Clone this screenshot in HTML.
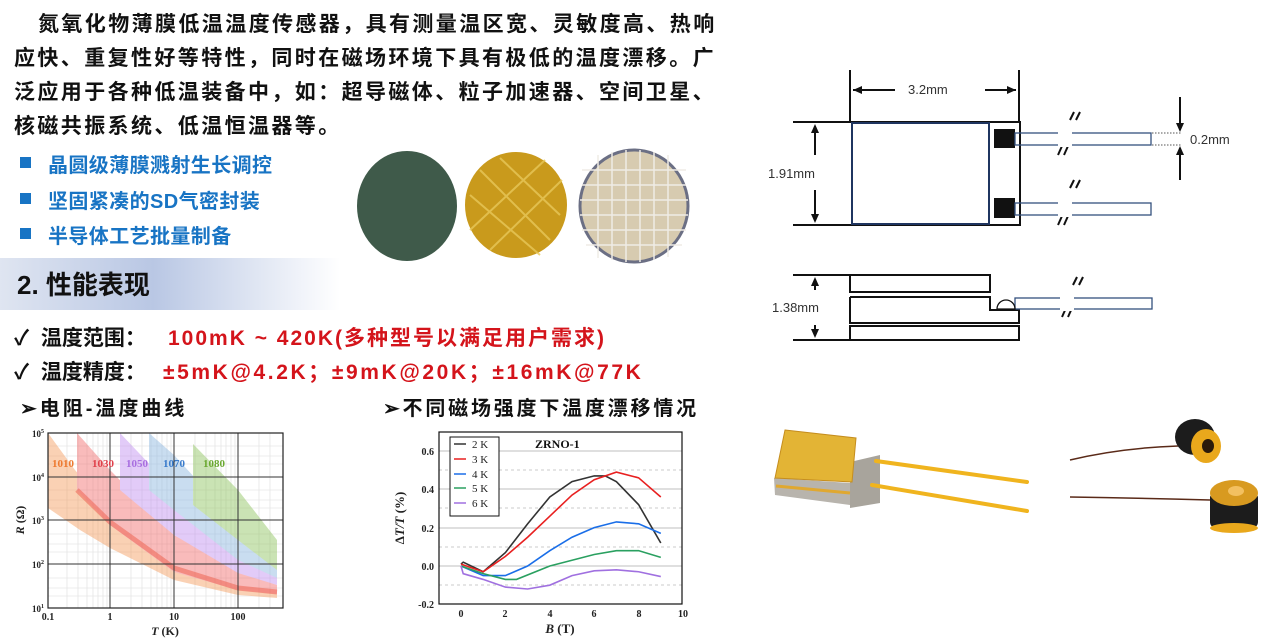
<!DOCTYPE html>
<html><head><meta charset="utf-8"><style>
body{margin:0;width:1270px;height:640px;background:#fff;position:relative;overflow:hidden;font-family:"Liberation Sans","Noto Sans CJK SC",sans-serif;}
.t{position:absolute;white-space:nowrap;font-weight:bold;}
.p{font-size:21px;letter-spacing:2.4px;color:#111;}
.b{font-size:20px;color:#1874c4;letter-spacing:0.4px;}
.sq{position:absolute;width:11px;height:11px;background:#1874c4;}
svg{position:absolute;left:0;top:0;}
</style></head><body>
<div class="t p" style="left:38px;top:8px">氮氧化物薄膜低温温度传感器，具有测量温区宽、灵敏度高、热响</div>
<div class="t p" style="left:14px;top:42px">应快、重复性好等特性，同时在磁场环境下具有极低的温度漂移。广</div>
<div class="t p" style="left:14px;top:76px">泛应用于各种低温装备中，如：超导磁体、粒子加速器、空间卫星、</div>
<div class="t p" style="left:14px;top:110px">核磁共振系统、低温恒温器等。</div>
<div class="sq" style="left:20px;top:157px"></div><div class="t b" style="left:48px;top:149px">晶圆级薄膜溅射生长调控</div>
<div class="sq" style="left:20px;top:193px"></div><div class="t b" style="left:48px;top:185px">坚固紧凑的SD气密封装</div>
<div class="sq" style="left:20px;top:228px"></div><div class="t b" style="left:48px;top:220px">半导体工艺批量制备</div>
<div style="position:absolute;left:0;top:258px;width:340px;height:52px;background:linear-gradient(90deg,#dfe5f1 0%,#b9c7e4 45%,#fff 100%)"></div>
<div class="t" style="left:17px;top:265px;font-size:26px;color:#111">2. 性能表现</div>
<div class="t" style="left:14px;top:322px;font-size:21px;color:#111">✓ &nbsp;温度范围：<span style="position:absolute;left:154px;color:#d4141b;letter-spacing:2px">100mK ~ 420K(多种型号以满足用户需求)</span></div>
<div class="t" style="left:14px;top:356px;font-size:21px;color:#111">✓ &nbsp;温度精度：<span style="position:absolute;left:149px;color:#d4141b;letter-spacing:2.6px">±5mK@4.2K；±9mK@20K；±16mK@77K</span></div>
<div class="t" style="left:20px;top:392px;font-size:20px;color:#111;letter-spacing:3px">➢电阻-温度曲线</div>
<div class="t" style="left:383px;top:392px;font-size:20px;color:#111;letter-spacing:2.8px">➢不同磁场强度下温度漂移情况</div>

<svg width="1270" height="640" viewBox="0 0 1270 640">
<!-- wafers -->
<ellipse cx="407" cy="206" rx="50" ry="55" fill="#3f5a4a"/>
<ellipse cx="516" cy="205" rx="51" ry="53" fill="#c99a1c"/>
<g stroke="#e8c85a" stroke-width="2" opacity=".8">
<line x1="480" y1="170" x2="550" y2="240"/><line x1="470" y1="195" x2="540" y2="255"/><line x1="500" y1="158" x2="560" y2="215"/>
<line x1="470" y1="230" x2="545" y2="160"/><line x1="490" y1="250" x2="562" y2="180"/></g>
<ellipse cx="634" cy="206" rx="54" ry="56" fill="#d7cbb0" stroke="#6b6f84" stroke-width="3"/>
<g stroke="#efece5" stroke-width="1.5">
<line x1="582" y1="170" x2="686" y2="170"/><line x1="582" y1="185" x2="686" y2="185"/><line x1="580" y1="200" x2="688" y2="200"/><line x1="580" y1="215" x2="688" y2="215"/><line x1="582" y1="230" x2="686" y2="230"/><line x1="586" y1="245" x2="682" y2="245"/>
<line x1="598" y1="155" x2="598" y2="258"/><line x1="612" y1="152" x2="612" y2="260"/><line x1="626" y1="150" x2="626" y2="262"/><line x1="640" y1="150" x2="640" y2="262"/><line x1="654" y1="152" x2="654" y2="260"/><line x1="668" y1="155" x2="668" y2="257"/></g>

<!-- left chart -->
<g stroke="#ddd" stroke-width="0.6">
<line x1="67" y1="433" x2="67" y2="608"/><line x1="78" y1="433" x2="78" y2="608"/><line x1="87" y1="433" x2="87" y2="608"/><line x1="93" y1="433" x2="93" y2="608"/><line x1="98" y1="433" x2="98" y2="608"/><line x1="103" y1="433" x2="103" y2="608"/><line x1="107" y1="433" x2="107" y2="608"/>
<line x1="131" y1="433" x2="131" y2="608"/><line x1="142" y1="433" x2="142" y2="608"/><line x1="151" y1="433" x2="151" y2="608"/><line x1="157" y1="433" x2="157" y2="608"/><line x1="162" y1="433" x2="162" y2="608"/><line x1="167" y1="433" x2="167" y2="608"/><line x1="171" y1="433" x2="171" y2="608"/>
<line x1="195" y1="433" x2="195" y2="608"/><line x1="206" y1="433" x2="206" y2="608"/><line x1="215" y1="433" x2="215" y2="608"/><line x1="221" y1="433" x2="221" y2="608"/><line x1="226" y1="433" x2="226" y2="608"/><line x1="231" y1="433" x2="231" y2="608"/><line x1="235" y1="433" x2="235" y2="608"/>
<line x1="259" y1="433" x2="259" y2="608"/><line x1="270" y1="433" x2="270" y2="608"/>
<line x1="48" y1="446" x2="283" y2="446"/><line x1="48" y1="456" x2="283" y2="456"/><line x1="48" y1="464" x2="283" y2="464"/><line x1="48" y1="490" x2="283" y2="490"/><line x1="48" y1="500" x2="283" y2="500"/><line x1="48" y1="508" x2="283" y2="508"/>
<line x1="48" y1="534" x2="283" y2="534"/><line x1="48" y1="544" x2="283" y2="544"/><line x1="48" y1="552" x2="283" y2="552"/><line x1="48" y1="578" x2="283" y2="578"/><line x1="48" y1="588" x2="283" y2="588"/><line x1="48" y1="596" x2="283" y2="596"/>
</g>
<g opacity=".45">
<polygon fill="#f59a5a" points="48,433 75,470 110,510 174,560 238,585 277,592 277,598 238,595 174,580 110,548 80,530 48,508"/>
<polygon fill="#f26a6a" points="77,433 110,470 174,535 238,570 277,585 277,594 238,590 174,572 110,525 77,490"/>
<polygon fill="#c08ef0" points="120,433 174,490 238,548 277,575 277,585 238,573 174,535 120,490"/>
<polygon fill="#88b4e0" points="149,433 174,455 238,525 277,560 277,578 238,560 174,510 149,490"/>
<polygon fill="#8cc25a" points="193,444 238,490 277,540 277,570 238,540 193,505"/>
</g>
<polyline fill="none" stroke="#ef6a5a" stroke-width="5" opacity=".6" points="77,490 110,522 174,568 238,588 277,592"/>
<g stroke="#333" stroke-width="1">
<line x1="110" y1="433" x2="110" y2="608"/><line x1="174" y1="433" x2="174" y2="608"/><line x1="238" y1="433" x2="238" y2="608"/>
<line x1="48" y1="477" x2="283" y2="477"/><line x1="48" y1="520" x2="283" y2="520"/><line x1="48" y1="564" x2="283" y2="564"/>
</g>
<rect x="48" y="433" width="235" height="175" fill="none" stroke="#222" stroke-width="1.2"/>
<g font-family="Liberation Serif,serif" font-weight="bold" font-size="11">
<text x="52" y="467" fill="#ee7a30">1010</text><text x="92" y="467" fill="#e0404a">1030</text><text x="126" y="467" fill="#a86ee0">1050</text><text x="163" y="467" fill="#3a7ccc">1070</text><text x="203" y="467" fill="#6aa830">1080</text>
</g>
<g font-family="Liberation Serif,serif" font-weight="bold" font-size="9" fill="#222" text-anchor="end">
<text x="44" y="437">10<tspan dy="-4" font-size="6">5</tspan></text><text x="44" y="481">10<tspan dy="-4" font-size="6">4</tspan></text><text x="44" y="524">10<tspan dy="-4" font-size="6">3</tspan></text><text x="44" y="568">10<tspan dy="-4" font-size="6">2</tspan></text><text x="44" y="612">10<tspan dy="-4" font-size="6">1</tspan></text>
</g>
<g font-family="Liberation Serif,serif" font-weight="bold" font-size="10" fill="#222" text-anchor="middle">
<text x="48" y="620">0.1</text><text x="110" y="620">1</text><text x="174" y="620">10</text><text x="238" y="620">100</text>
<text x="165" y="635" font-size="12"><tspan font-style="italic">T</tspan> (K)</text>
<text x="0" y="0" font-size="12" transform="translate(24,520) rotate(-90)"><tspan font-style="italic">R</tspan> (Ω)</text>
</g>

<!-- middle chart -->
<g stroke="#aaa" stroke-width="0.8">
<line x1="439" y1="451" x2="682" y2="451"/><line x1="439" y1="489" x2="682" y2="489"/><line x1="439" y1="528" x2="682" y2="528"/><line x1="439" y1="566" x2="682" y2="566"/>
</g>
<g stroke="#bbb" stroke-width="0.8" stroke-dasharray="3,3">
<line x1="439" y1="470" x2="682" y2="470"/><line x1="439" y1="508" x2="682" y2="508"/><line x1="439" y1="547" x2="682" y2="547"/><line x1="439" y1="585" x2="682" y2="585"/>
</g>
<g transform="translate(461,566) scale(22.2,-191.7)" fill="none" stroke-width="1.6">
<polyline vector-effect="non-scaling-stroke" stroke="#333" points="0,0.01 0.1,0.02 1,-0.03 2,0.07 3,0.22 4,0.36 5,0.44 6,0.47 6.5,0.47 7,0.44 8,0.32 9,0.12"/>
<polyline vector-effect="non-scaling-stroke" stroke="#e82020" points="0,0.01 1,-0.03 2,0.05 3,0.15 4,0.26 5,0.37 6,0.45 7,0.49 8,0.46 9,0.36"/>
<polyline vector-effect="non-scaling-stroke" stroke="#1a6ee8" points="0,0 1,-0.05 2,-0.05 3,0 4,0.08 5,0.15 6,0.2 7,0.23 8,0.22 9,0.17"/>
<polyline vector-effect="non-scaling-stroke" stroke="#2aa060" points="0,0 1,-0.04 2,-0.07 2.5,-0.07 4,0 5,0.03 6,0.06 7,0.08 8,0.08 9,0.045"/>
<polyline vector-effect="non-scaling-stroke" stroke="#a070e0" points="0,0 0.1,-0.04 1,-0.07 2,-0.11 3,-0.12 4,-0.1 5,-0.05 6,-0.025 7,-0.02 8,-0.03 9,-0.055"/>
</g>
<rect x="439" y="432" width="243" height="172" fill="none" stroke="#111" stroke-width="1.2"/>
<rect x="450" y="437" width="49" height="79" fill="#fff" stroke="#111" stroke-width="1"/>
<g stroke-width="1.5"><line x1="454" y1="444" x2="466" y2="444" stroke="#333"/><line x1="454" y1="459" x2="466" y2="459" stroke="#e82020"/><line x1="454" y1="474" x2="466" y2="474" stroke="#1a6ee8"/><line x1="454" y1="488" x2="466" y2="488" stroke="#2aa060"/><line x1="454" y1="503" x2="466" y2="503" stroke="#a070e0"/></g>
<g font-family="Liberation Serif,serif" font-size="11" fill="#222">
<text x="472" y="448">2 K</text><text x="472" y="463">3 K</text><text x="472" y="478">4 K</text><text x="472" y="492">5 K</text><text x="472" y="507">6 K</text>
</g>
<text x="535" y="448" font-family="Liberation Serif,serif" font-weight="bold" font-size="12" fill="#111">ZRNO-1</text>
<g font-family="Liberation Serif,serif" font-weight="bold" font-size="10" fill="#222" text-anchor="end">
<text x="434" y="455">0.6</text><text x="434" y="493">0.4</text><text x="434" y="532">0.2</text><text x="434" y="570">0.0</text><text x="434" y="608">-0.2</text>
</g>
<g font-family="Liberation Serif,serif" font-weight="bold" font-size="10" fill="#222" text-anchor="middle">
<text x="461" y="617">0</text><text x="505" y="617">2</text><text x="550" y="617">4</text><text x="594" y="617">6</text><text x="639" y="617">8</text><text x="683" y="617">10</text>
<text x="560" y="633" font-size="13"><tspan font-style="italic">B</tspan> (T)</text>
<text x="0" y="0" font-size="13" transform="translate(404,518) rotate(-90)">Δ<tspan font-style="italic">T/T</tspan> (%)</text>
</g>

<!-- right drawing -->
<g stroke="#111" stroke-width="2" fill="none">
<line x1="850" y1="70" x2="850" y2="122"/><line x1="1019" y1="70" x2="1019" y2="122"/>
<line x1="853" y1="90" x2="895" y2="90"/><line x1="985" y1="90" x2="1016" y2="90"/>
<line x1="793" y1="122" x2="850" y2="122"/><line x1="793" y1="225" x2="850" y2="225"/>
<line x1="815" y1="126" x2="815" y2="155"/><line x1="815" y1="190" x2="815" y2="221"/>
<polyline points="850,122 1020,122 1020,225 850,225"/>
<line x1="1180" y1="97" x2="1180" y2="130"/><line x1="1180" y1="148" x2="1180" y2="180"/>
<line x1="793" y1="275" x2="850" y2="275"/><line x1="793" y1="340" x2="850" y2="340"/>
<line x1="815" y1="280" x2="815" y2="290"/><line x1="815" y1="325" x2="815" y2="335"/>
<polyline points="850,275 990,275 990,292 850,292 850,275"/>
<polyline points="850,297 990,297 990,310 1019,310 1019,323 850,323 850,297"/>
<rect x="850" y="326" width="169" height="14"/>
</g>
<g fill="#111">
<polygon points="853,90 862,86 862,94"/><polygon points="1016,90 1007,86 1007,94"/>
<polygon points="815,124 811,133 819,133"/><polygon points="815,223 811,214 819,214"/>
<polygon points="1180,132 1176,123 1184,123"/><polygon points="1180,146 1176,155 1184,155"/>
<polygon points="815,277 811,286 819,286"/><polygon points="815,338 811,329 819,329"/>
<rect x="994" y="129" width="21" height="19"/><rect x="994" y="198" width="21" height="20"/>
</g>
<rect x="852" y="123" width="137" height="101" fill="none" stroke="#1f3560" stroke-width="2"/>
<g fill="none" stroke="#34507e" stroke-width="1.3">
<rect x="1015" y="133" width="136" height="12"/><rect x="1015" y="203" width="136" height="12"/><rect x="1015" y="298" width="137" height="11"/>
<path d="M997,309 A9,9 0 0 1 1015,309 Z" stroke="#111"/>
</g>
<g stroke="#555" stroke-width="1" stroke-dasharray="1.5,1.5"><line x1="1152" y1="133" x2="1182" y2="133"/><line x1="1152" y1="145" x2="1182" y2="145"/></g>
<g stroke="#111" stroke-width="2">
<line x1="1070" y1="120" x2="1074" y2="112"/><line x1="1076" y1="120" x2="1080" y2="112"/><line x1="1058" y1="155" x2="1062" y2="146"/><line x1="1064" y1="155" x2="1068" y2="146"/>
<line x1="1070" y1="188" x2="1074" y2="180"/><line x1="1076" y1="188" x2="1080" y2="180"/><line x1="1058" y1="225" x2="1062" y2="216"/><line x1="1064" y1="225" x2="1068" y2="216"/>
<line x1="1073" y1="285" x2="1077" y2="277"/><line x1="1079" y1="285" x2="1083" y2="277"/><line x1="1062" y1="317" x2="1066" y2="308"/><line x1="1068" y1="317" x2="1072" y2="308"/>
</g>
<g fill="#fff"><rect x="1058" y="131" width="14" height="16"/><rect x="1058" y="201" width="14" height="16"/><rect x="1060" y="296" width="14" height="15"/></g>
<g font-family="Liberation Sans,sans-serif" font-size="13" fill="#333">
<text x="908" y="94">3.2mm</text><text x="768" y="178">1.91mm</text><text x="1190" y="144">0.2mm</text><text x="772" y="312">1.38mm</text>
</g>

<!-- photos -->
<polygon points="774,478 850,483 850,505 775,495" fill="#b8b4ad"/>
<polygon points="850,462 880,455 880,503 850,508" fill="#a8a49c"/>
<line x1="776" y1="486" x2="850" y2="493" stroke="#e0a830" stroke-width="3"/>
<polygon points="785,430 856,438 852,482 775,478" fill="#e3b435"/>
<polygon points="785,430 856,438 852,482 775,478" fill="none" stroke="#c58d1e" stroke-width="1"/>
<g stroke="#f0b41e" stroke-width="4" stroke-linecap="round"><line x1="876" y1="461" x2="1027" y2="482"/><line x1="872" y1="485" x2="1027" y2="511"/></g>
<g stroke="#5a2a18" stroke-width="1.5" fill="none"><path d="M1070,460 Q1120,448 1178,446"/><path d="M1070,497 Q1140,498 1210,500"/></g>
<ellipse cx="1195" cy="437" rx="20" ry="18" fill="#1c1c1c"/>
<ellipse cx="1206" cy="446" rx="15" ry="17" fill="#e9a81c"/>
<ellipse cx="1208" cy="446" rx="6" ry="7" fill="#2a1a0a"/>
<rect x="1210" y="492" width="48" height="36" rx="6" fill="#1c1c1c"/>
<ellipse cx="1234" cy="528" rx="24" ry="5" fill="#e9a81c"/>
<ellipse cx="1234" cy="493" rx="24" ry="13" fill="#d89a20"/>
<ellipse cx="1236" cy="491" rx="8" ry="5" fill="#f3c060"/>
</svg>
</body></html>
